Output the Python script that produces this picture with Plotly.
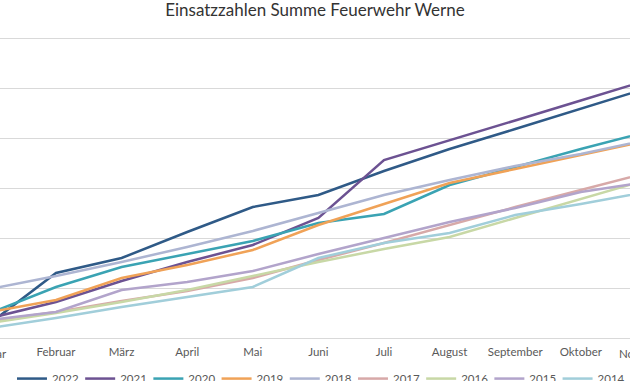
import plotly.graph_objects as go

months = ["Januar", "Februar", "März", "April", "Mai", "Juni", "Juli",
          "August", "September", "Oktober", "November"]
month_idx = list(range(len(months)))

years = ["2022", "2021", "2020", "2019", "2018", "2017", "2016", "2015", "2014"]

v2022 = [30, 130, 160, 212, 262, 286, 334, 378, 418, 459, 499]
v2021 = [40, 72, 114, 152, 186, 240, 356, 395, 435, 475, 515]
v2020 = [50, 102, 142, 168, 194, 230, 248, 306, 342, 378, 412]
v2019 = [52, 76, 120, 146, 176, 226, 268, 310, 338, 366, 394]
v2018 = [98, 124, 152, 182, 214, 250, 286, 316, 344, 368, 396]
v2017 = [34, 52, 74, 94, 120, 156, 190, 226, 262, 296, 330]
v2016 = [30, 50, 72, 96, 124, 152, 178, 202, 240, 278, 316]
v2015 = [36, 52, 96, 112, 134, 168, 200, 232, 260, 292, 312]
v2014 = [20, 40, 62, 82, 102, 160, 190, 210, 246, 268, 292]

series = [v2022, v2021, v2020, v2019, v2018, v2017, v2016, v2015, v2014]
colors = ["#2F5A87", "#6C5292", "#3AA3B3", "#F0A257", "#ADB5D2",
          "#D7A9A8", "#C8D8A6", "#B2A4CB", "#A1CEDA"]

fig = go.Figure()
for name, vals, col in zip(years, series, colors):
    fig.add_trace(go.Scatter(x=month_idx, y=vals, name=name, mode="lines",
                             line=dict(color=col, width=2.5)))

# x geometry: Feb at 56 px, 65.6 px per month
x0 = 0.1463
x1 = 9.750

fig.update_layout(
    width=630, height=381,
    margin=dict(l=0, r=0, t=33, b=38, autoexpand=False),
    paper_bgcolor="white", plot_bgcolor="white",
    font=dict(family="Lato", size=11.5, color="#595959"),
    title=dict(text="Einsatzzahlen Summe Feuerwehr Werne",
               font=dict(family="Lato", size=17, color="#333333"),
               x=0.5, xanchor="center", y=0.974, yanchor="middle",
               xref="paper", yref="container"),
    showlegend=True,
    legend=dict(orientation="h", x=0.019, xanchor="left", y=-0.068, yanchor="top",
                font=dict(family="Lato", size=11.5, color="#595959"),
                entrywidth=23.2, entrywidthmode="pixels",
                bgcolor="rgba(0,0,0,0)", traceorder="normal"),
    xaxis=dict(range=[x0, x1], tickmode="array",
               tickvals=month_idx[1:10], ticktext=months[1:10],
               showgrid=False, zeroline=False, showline=False, ticks="",
               tickfont=dict(family="Lato", size=11.5, color="#595959")),
    yaxis=dict(range=[-10, 610], tickmode="array",
               tickvals=[0, 100, 200, 300, 400, 500, 600],
               showticklabels=False, showgrid=True, gridcolor="#D9D9D9",
               gridwidth=1, zeroline=False, showline=False, ticks=""),
)

# partially visible edge month labels (Januar / November)
px_per = 630 / (x1 - x0)
for i in (0, 10):
    xp = (i - x0) * px_per / 630
    fig.add_annotation(text=months[i], x=xp, xref="paper", xanchor="center",
                       y=-0.006, yref="paper", yanchor="top", showarrow=False,
                       font=dict(family="Lato", size=11.5, color="#595959"))

fig.write_html("out.html", config={"displayModeBar": False},
               post_script="document.body.style.margin='0';document.body.style.overflow='hidden';")
